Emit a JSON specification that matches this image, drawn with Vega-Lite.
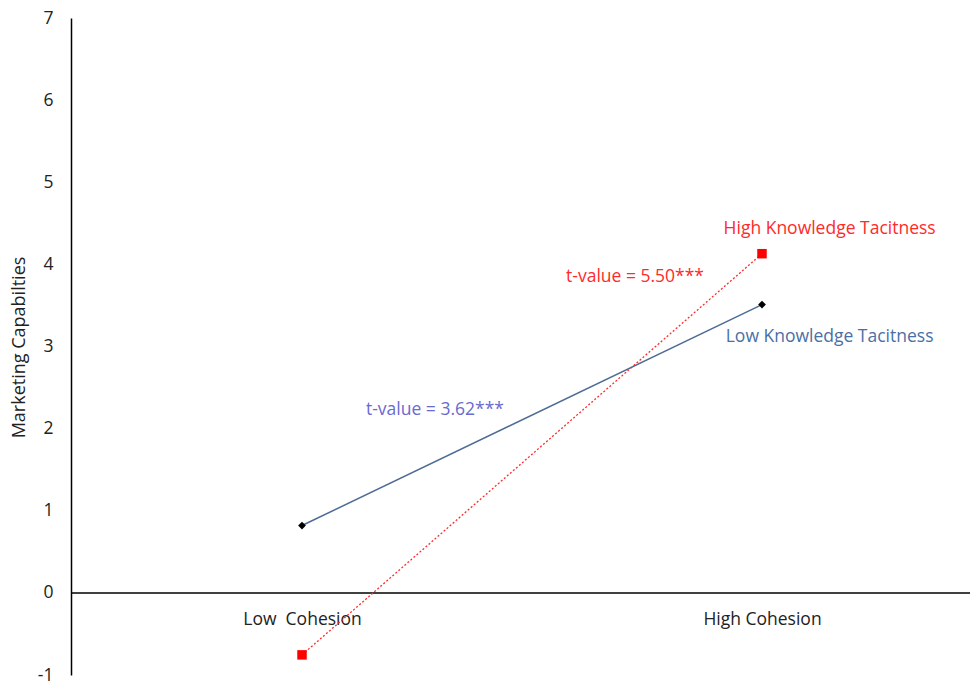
{
  "$schema": "https://vega.github.io/schema/vega-lite/v6.json",
  "autosize": {"type": "none"},
  "padding": {"left": 71, "top": 18, "right": 0, "bottom": 8},
  "width": 899,
  "height": 657,
  "background": "white",
  "config": {"view": {"stroke": null}, "font": "Open Sans"},
  "datasets": {
    "lines": [
      {"series": "Low Knowledge Tacitness", "cohesion": 0, "value": 0.82},
      {"series": "Low Knowledge Tacitness", "cohesion": 1, "value": 3.51},
      {"series": "High Knowledge Tacitness", "cohesion": 0, "value": -0.755},
      {"series": "High Knowledge Tacitness", "cohesion": 1, "value": 4.13}
    ],
    "notes": [
      {"label": "High Knowledge Tacitness", "kind": "high", "x": 1.147, "y": 4.43},
      {"label": "Low Knowledge Tacitness", "kind": "low", "x": 1.147, "y": 3.12},
      {"label": "t-value = 5.50***", "kind": "high", "x": 0.724, "y": 3.85},
      {"label": "t-value = 3.62***", "kind": "t", "x": 0.289, "y": 2.23}
    ]
  },
  "layer": [
    {
      "data": {"values": [{"zero": 0}]},
      "mark": {"type": "rule", "color": "black", "strokeWidth": 1.5},
      "encoding": {"y": {"field": "zero", "type": "quantitative"}}
    },
    {
      "data": {"name": "lines"},
      "transform": [{"filter": "datum.series == 'Low Knowledge Tacitness'"}],
      "mark": {"type": "line", "color": "#4d6b94", "strokeWidth": 1.5},
      "encoding": {
        "x": {"field": "cohesion", "type": "quantitative", "scale": {"domain": [-0.5022, 1.4522], "nice": false, "zero": false},
          "axis": {"values": [0, 1], "labelExpr": "datum.value == 0 ? 'Low\u00a0 Cohesion' : 'High Cohesion'", "title": null, "domain": false, "ticks": false, "grid": false, "offset": -82, "labelPadding": 17, "labelFontSize": 17.5, "labelColor": "#222", "labelFont": "Open Sans"}},
        "y": {"field": "value", "type": "quantitative", "scale": {"domain": [-1, 7], "nice": false},
          "axis": {"values": [-1, 0, 1, 2, 3, 4, 5, 6, 7], "labelExpr": "'' + datum.value", "title": "Marketing Capabilties", "titleFontSize": 18, "titleFontWeight": "normal", "titleColor": "#222", "titleX": -52, "titleY": 329, "titleAngle": -90, "titleAlign": "center", "titleBaseline": "middle", "grid": false, "ticks": false, "domainColor": "black", "domainWidth": 1.5, "labelPadding": 18, "labelFontSize": 17.5, "labelColor": "#222", "labelFont": "Open Sans"}}
      }
    },
    {
      "data": {"name": "lines"},
      "transform": [{"filter": "datum.series == 'Low Knowledge Tacitness'"}],
      "mark": {"type": "point", "shape": "diamond", "filled": true, "color": "black", "size": 60, "opacity": 1},
      "encoding": {
        "x": {"field": "cohesion", "type": "quantitative"},
        "y": {"field": "value", "type": "quantitative"}
      }
    },
    {
      "data": {"name": "lines"},
      "transform": [{"filter": "datum.series == 'High Knowledge Tacitness'"}],
      "mark": {"type": "line", "color": "#ff2a2a", "strokeWidth": 1.3, "strokeDash": [2, 2]},
      "encoding": {
        "x": {"field": "cohesion", "type": "quantitative"},
        "y": {"field": "value", "type": "quantitative"}
      }
    },
    {
      "data": {"name": "lines"},
      "transform": [{"filter": "datum.series == 'High Knowledge Tacitness'"}],
      "mark": {"type": "square", "filled": true, "color": "#ff0000", "size": 90, "opacity": 1},
      "encoding": {
        "x": {"field": "cohesion", "type": "quantitative"},
        "y": {"field": "value", "type": "quantitative"}
      }
    },
    {
      "data": {"name": "notes"},
      "mark": {"type": "text", "fontSize": 17.5, "align": "center", "baseline": "middle", "font": "Open Sans"},
      "encoding": {
        "x": {"field": "x", "type": "quantitative"},
        "y": {"field": "y", "type": "quantitative"},
        "text": {"field": "label"},
        "color": {"field": "kind", "type": "nominal", "scale": {"domain": ["high", "low", "t"], "range": ["#ff2a2a", "#4a6fa5", "#6a6ad0"]}, "legend": null}
      }
    }
  ]
}
